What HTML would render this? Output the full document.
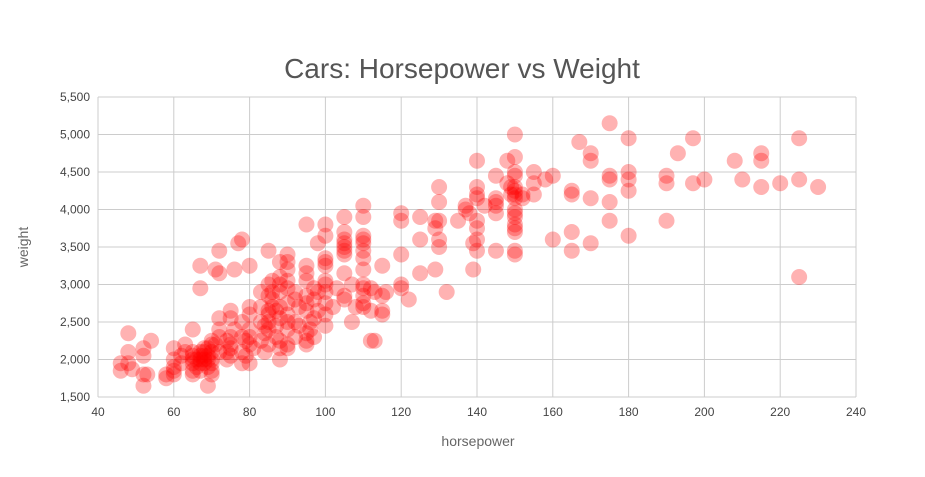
<!DOCTYPE html>
<html><head><meta charset="utf-8"><style>
html,body{margin:0;padding:0;background:#fff;}
svg{display:block;font-family:"Liberation Sans",Arial,sans-serif;}
</style></head><body>
<svg id="chart" width="925" height="477">
<text x="462" y="78" text-anchor="middle" font-size="28" fill="#555">Cars: Horsepower vs Weight</text>
<g id="grid"></g>
<g id="pts"></g>
<text x="478" y="446" text-anchor="middle" font-size="14" fill="#666">horsepower</text>
<text x="0" y="0" transform="translate(28,247) rotate(-90)" text-anchor="middle" font-size="14" fill="#666">weight</text>
</svg>
<script>
const xTicks=[40,60,80,100,120,140,160,180,200,220,240];
const yTicks=[1500,2000,2500,3000,3500,4000,4500,5000,5500];
const horsepower=[46,46,48,48,48,49,52,52,52,52,53,54,58,58,60,60,60,60,60,
62,62,63,63,65,65,65,65,65,65,65,66,66,67,67,67,67,67,67,67,68,68,68,68,68,69,69,69,69,69,70,70,70,70,70,70,70,71,71,72,72,72,72,72,72,74,74,74,75,75,75,75,75,75,76,76,77,78,78,78,78,78,79,79,80,80,80,80,80,80,80,81,83,83,83,83,84,84,84,85,85,85,85,85,85,85,85,86,86,86,86,87,87,87,88,88,88,88,88,88,88,88,88,90,90,90,90,90,90,90,90,90,90,90,92,92,92,92,93,93,95,95,95,95,95,95,95,95,95,95,96,96,97,97,97,97,98,98,98,100,100,100,100,100,100,100,100,100,100,100,102,103,105,105,105,105,105,105,105,105,105,105,107,107,108,110,110,110,110,110,110,110,110,110,110,110,110,110,112,112,112,113,113,115,115,115,115,116,120,120,120,120,120,122,125,125,125,129,129,129,130,130,130,130,130,132,135,137,137,138,139,139,140,140,140,140,140,140,140,140,142,145,145,145,145,145,145,148,148,149,149,150,150,150,150,150,150,150,150,150,150,150,150,150,150,150,150,152,152,155,155,155,158,160,160,165,165,165,165,167,170,170,170,170,175,175,175,175,175,180,180,180,180,180,190,190,190,193,197,197,200,208,210,215,215,215,220,225,225,225,230];
const weight=[1950,1850,2350,2100,1950,1870,2050,2150,1800,1650,1800,2250,1800,1750,1800,1850,2000,2150,1900,
2050,1950,2200,2100,2400,2050,1950,1850,1800,2100,2000,2000,1900,2950,3250,2100,2050,1950,2000,1850,2000,2150,1950,2050,2100,2150,2000,1900,2050,1650,2100,2200,2250,1850,1950,2000,1800,3200,2200,2550,2400,2300,2100,3450,3150,2250,2100,2000,2650,2550,2300,2200,2150,2050,3200,2400,3550,2500,2300,2100,3600,1950,2250,2050,3250,2700,2600,2400,2300,2200,1950,2150,2700,2500,2900,2250,2450,2350,2100,3450,3000,2850,2650,2600,2500,2400,2200,3050,2900,2800,2700,2650,2450,2300,3300,3000,3100,2900,2700,2550,2250,2150,2000,3400,3300,3200,3050,2950,2750,2600,2200,2150,2500,2400,2800,2900,2500,2300,2450,2700,3800,3250,3150,3050,2850,2750,2650,2350,2250,2200,2400,2500,2950,2550,2300,2800,2900,3550,2650,3800,3650,3350,3300,3250,3050,2900,2750,2600,2450,3000,2700,2950,3900,3700,3550,3450,3400,3150,2850,2800,3500,3600,2500,3000,2700,4050,3900,3650,3600,3550,3450,3350,3200,2950,2850,2750,2700,3000,2950,2650,2250,2250,2900,3250,2850,2650,2600,2900,3950,3850,3400,2950,3000,2800,3900,3600,3150,3850,3750,3200,4300,4100,3850,3600,3500,2900,3850,4000,4050,3950,3200,3550,4650,4300,4200,4150,3850,3750,3600,3450,4050,4450,4150,4100,4050,3950,3450,4350,4650,4300,4200,5000,4700,4500,4450,4300,4250,4200,4150,4000,3950,3900,3800,3750,3700,3450,3400,4150,4200,4500,4350,4200,4400,4450,3600,4250,4200,3700,3450,4900,4750,4650,4150,3550,5150,4450,4400,4100,3850,4950,4500,4400,4250,3650,4450,4350,3850,4750,4950,4350,4400,4650,4400,4750,4650,4300,4350,4950,4400,3100,4300];
const NS='http://www.w3.org/2000/svg';
const L=98,R=856,T=97,B=397;
function xs(v){return L+(v-40)/200*(R-L);}
function ys(v){return B-(v-1500)/4000*(B-T);}
const grid=document.getElementById('grid');
const pts=document.getElementById('pts');
function mk(tag,attrs,parent){const e=document.createElementNS(NS,tag);for(const k in attrs)e.setAttribute(k,attrs[k]);parent.appendChild(e);return e;}
xTicks.forEach(t=>{
  const l=mk('line',{x1:xs(t),x2:xs(t),y1:T,y2:B,stroke:'#ccc','stroke-width':1},grid);
  
  
  const tx=mk('text',{x:xs(t),y:B+19,'text-anchor':'middle','font-size':12,fill:'#444'},grid);
  tx.textContent=t;
  
  
});
yTicks.forEach(t=>{
  const l=mk('line',{x1:L,x2:R,y1:ys(t),y2:ys(t),stroke:'#ccc','stroke-width':1},grid);
  
  
  const tx=mk('text',{x:L-8,y:ys(t)+4,'text-anchor':'end','font-size':12,fill:'#444'},grid);
  tx.textContent=t.toLocaleString('en-US');
  
  
});
for(let i=0;i<horsepower.length;i++){
  const c=mk('circle',{cx:xs(horsepower[i]),cy:ys(weight[i]),r:8,fill:'#ff0000','fill-opacity':0.3},pts);
  
  
}
</script>
</body></html>
